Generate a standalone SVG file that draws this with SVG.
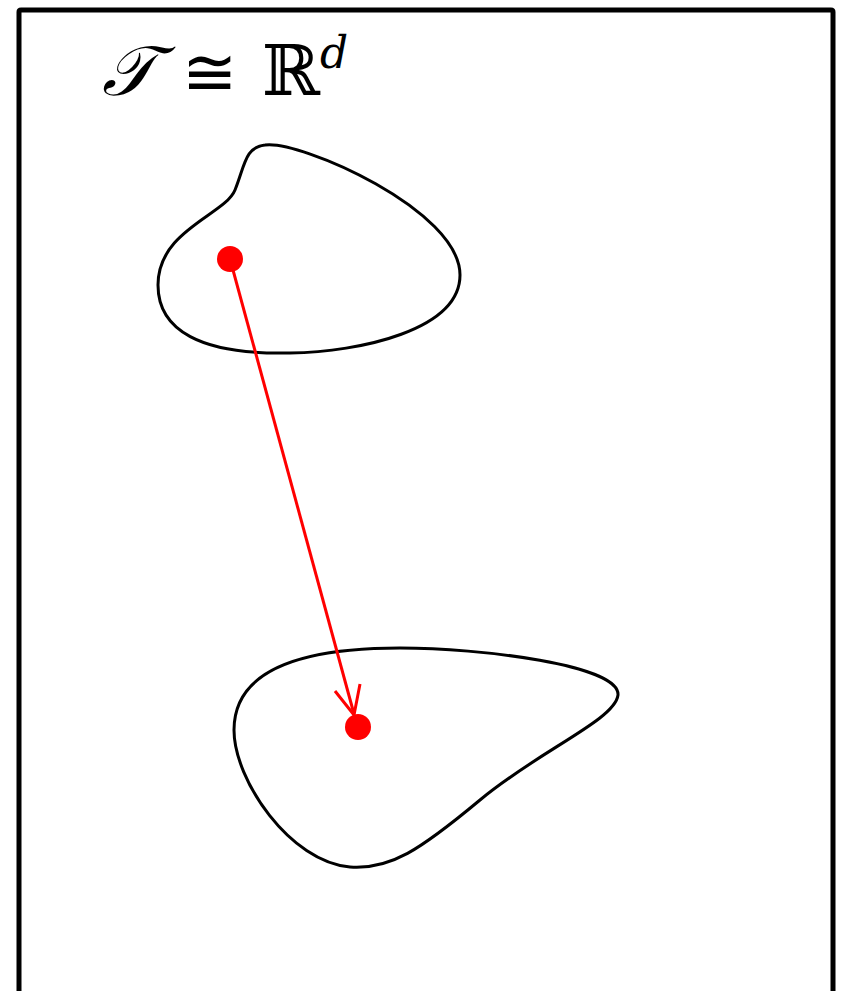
<svg xmlns="http://www.w3.org/2000/svg" width="843" height="991" viewBox="0 0 843 991">
<style>
.blob{fill:none;stroke:#000;stroke-width:3}
.red{stroke:#ff0000;stroke-width:3;fill:none}
.dot{fill:#ff0000}
.m{font-family:'DejaVu Serif','Liberation Serif',serif}
</style>
<rect width="843" height="991" fill="#fff"/>
<path d="M19,995 V12 Q19,10 21,10 H831 Q833,10 833,12 V995" fill="none" stroke="#000" stroke-width="5"/>
<g id="title">
<text class="m" x="102" y="95" style="font-size:70px;font-style:italic">𝒯</text>
<text class="m" x="182" y="95" style="font-size:66px;font-weight:300">≅</text>
<text class="m" x="262" y="95" style="font-size:70px">ℝ</text>
<text class="m" x="320" y="68" style="font-size:44px;font-style:italic">d</text>
</g>
<g id="blob1"><path class="blob" d="M265,145 C300,140 460,210 460,275 C460,330 360,352 290,353 C200,355 158,330 158,285 C158,230 225,215 235,190 C245,165 245,147 265,145 Z"/></g>
<g id="blob2"><path class="blob" d="M400,648 C480,648 620,665 618,695 C615,720 540,750 480,800 C420,850 390,870 350,867 C290,862 234,780 234,730 C234,670 300,648 400,648 Z"/></g>
<g id="p1"><circle class="dot" cx="230" cy="259" r="13"/></g>
<g id="p2"><circle class="dot" cx="358" cy="727" r="13"/></g>
<g id="connectors">
<path class="red" d="M230,259 L354,714"/>
<path class="red" d="M335,691 L354,715 L360,684"/>
</g>
</svg>
